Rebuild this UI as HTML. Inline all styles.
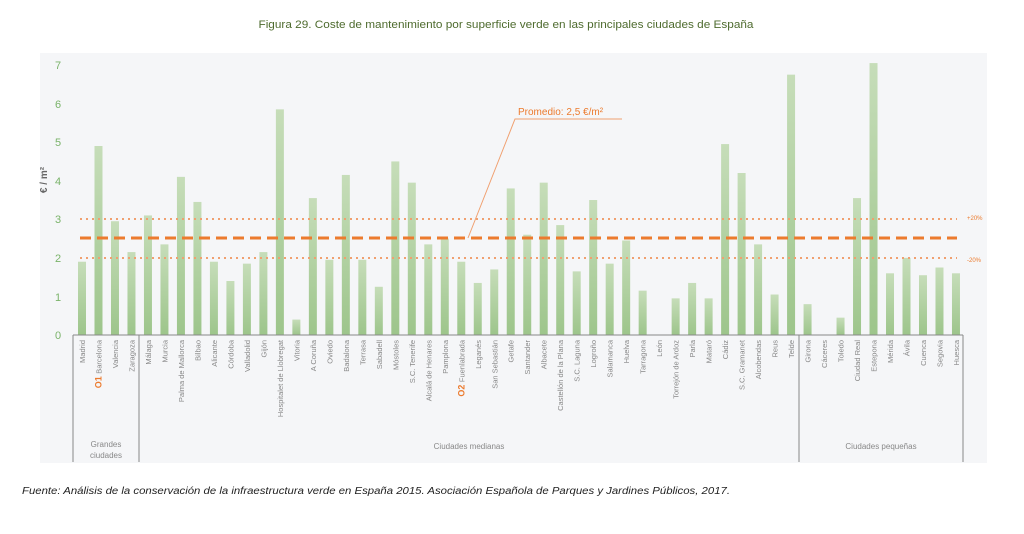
<!DOCTYPE html>
<html><head><meta charset="utf-8"><style>
body{margin:0;background:#fff;width:1024px;height:534px;overflow:hidden}
svg{display:block;font-family:"Liberation Sans",sans-serif}
</style></head><body>
<svg width="1024" height="534" viewBox="0 0 1024 534">
<defs><linearGradient id="g" x1="0" y1="0" x2="0" y2="1"><stop offset="0" stop-color="#c6ddb9"/><stop offset="1" stop-color="#9dc58b"/></linearGradient></defs>
<text x="506" y="28" text-anchor="middle" font-size="11" fill="#4e6b2e" textLength="495" lengthAdjust="spacingAndGlyphs">Figura 29. Coste de mantenimiento por superficie verde en las principales ciudades de España</text>
<rect x="40" y="53" width="947" height="410" fill="#f5f6f8"/>
<g font-size="11" fill="#7ab36a" text-anchor="middle">
<text x="58" y="339">0</text><text x="58" y="301">1</text><text x="58" y="262">2</text><text x="58" y="223">3</text><text x="58" y="185">4</text><text x="58" y="146">5</text><text x="58" y="108">6</text><text x="58" y="69">7</text>
</g>
<text transform="translate(47,180) rotate(-90)" text-anchor="middle" font-size="10" font-weight="bold" fill="#666">€ / m²</text>
<g id="bars" fill="url(#g)"></g>
<line x1="80" y1="219" x2="957" y2="219" stroke="#f0a070" stroke-width="2" stroke-dasharray="2,4"/>
<line x1="80" y1="258" x2="957" y2="258" stroke="#f0a070" stroke-width="2" stroke-dasharray="2,4"/>
<line x1="80" y1="238" x2="957" y2="238" stroke="#ec7b2e" stroke-width="3" stroke-dasharray="11,6"/>
<text x="967" y="220" font-size="6" fill="#ec7b2e">+20%</text>
<text x="967" y="262" font-size="6" fill="#ec7b2e">-20%</text>
<polyline points="468,238 515,119 622,119" fill="none" stroke="#f0a070" stroke-width="1"/>
<text x="518" y="115" font-size="10" fill="#ec7b2e">Promedio: 2,5 €/m²</text>
<g stroke="#888" stroke-width="1" fill="none">
<line x1="73" y1="335" x2="963" y2="335"/>
<line x1="73" y1="335" x2="73" y2="462"/><line x1="139" y1="335" x2="139" y2="462"/><line x1="799" y1="335" x2="799" y2="462"/><line x1="963" y1="335" x2="963" y2="462"/>
</g>
<g id="labels" font-size="7.5" fill="#888"></g>
<g font-size="8" fill="#888" text-anchor="middle">
<text x="106" y="447">Grandes</text><text x="106" y="458">ciudades</text>
<text x="469" y="449">Ciudades medianas</text>
<text x="881" y="449">Ciudades pequeñas</text>
</g>
<text x="22" y="494" font-size="10" font-style="italic" fill="#222" textLength="708" lengthAdjust="spacingAndGlyphs">Fuente: Análisis de la conservación de la infraestructura verde en España 2015. Asociación Española de Parques y Jardines Públicos, 2017.</text>
<script>
var d=[["Madrid",1.9],["Barcelona",4.9,"O1"],["Valencia",2.95],["Zaragoza",2.15],["Málaga",3.1],["Murcia",2.35],["Palma de Mallorca",4.1],["Bilbao",3.45],["Alicante",1.9],["Córdoba",1.4],["Valladolid",1.85],["Gijón",2.15],["Hospitalet de Llobregat",5.85],["Vitoria",0.4],["A Coruña",3.55],["Oviedo",1.95],["Badalona",4.15],["Terrasa",1.95],["Sabadell",1.25],["Móstoles",4.5],["S.C. Tenerife",3.95],["Alcalá de Henares",2.35],["Pamplona",2.5],["Fuenlabrada",1.9,"O2"],["Leganés",1.35],["San Sebastián",1.7],["Getafe",3.8],["Santander",2.6],["Albacete",3.95],["Castellón de la Plana",2.85],["S.C. Laguna",1.65],["Logroño",3.5],["Salamanca",1.85],["Huelva",2.45],["Tarragona",1.15],["León",0],["Torrejón de Ardoz",0.95],["Parla",1.35],["Mataró",0.95],["Cádiz",4.95],["S.C. Gramanet",4.2],["Alcobendas",2.35],["Reus",1.05],["Telde",6.75],["Girona",0.8],["Cáceres",0],["Toledo",0.45],["Ciudad Real",3.55],["Estepona",7.05],["Mérida",1.6],["Ávila",2.0],["Cuenca",1.55],["Segovia",1.75],["Huesca",1.6]];
var ns="http://www.w3.org/2000/svg",b=document.getElementById("bars"),l=document.getElementById("labels");
d.forEach(function(e,i){var x=82+i*16.49,h=e[1]*38.57;
if(h>0){var r=document.createElementNS(ns,"rect");r.setAttribute("x",x-4);r.setAttribute("y",335-h);r.setAttribute("width",8);r.setAttribute("height",h);b.appendChild(r);}
var t=document.createElementNS(ns,"text");t.setAttribute("transform","translate("+(x+3)+",340) rotate(-90)");t.setAttribute("text-anchor","end");
if(e[2]){var s=document.createElementNS(ns,"tspan");s.setAttribute("fill","#ec7b2e");s.setAttribute("font-weight","bold");s.setAttribute("font-size","9");s.textContent=e[2]+" ";t.appendChild(s);}
var s2=document.createElementNS(ns,"tspan");s2.textContent=e[0];t.appendChild(s2);
l.appendChild(t);});
</script>
</svg>
</body></html>
